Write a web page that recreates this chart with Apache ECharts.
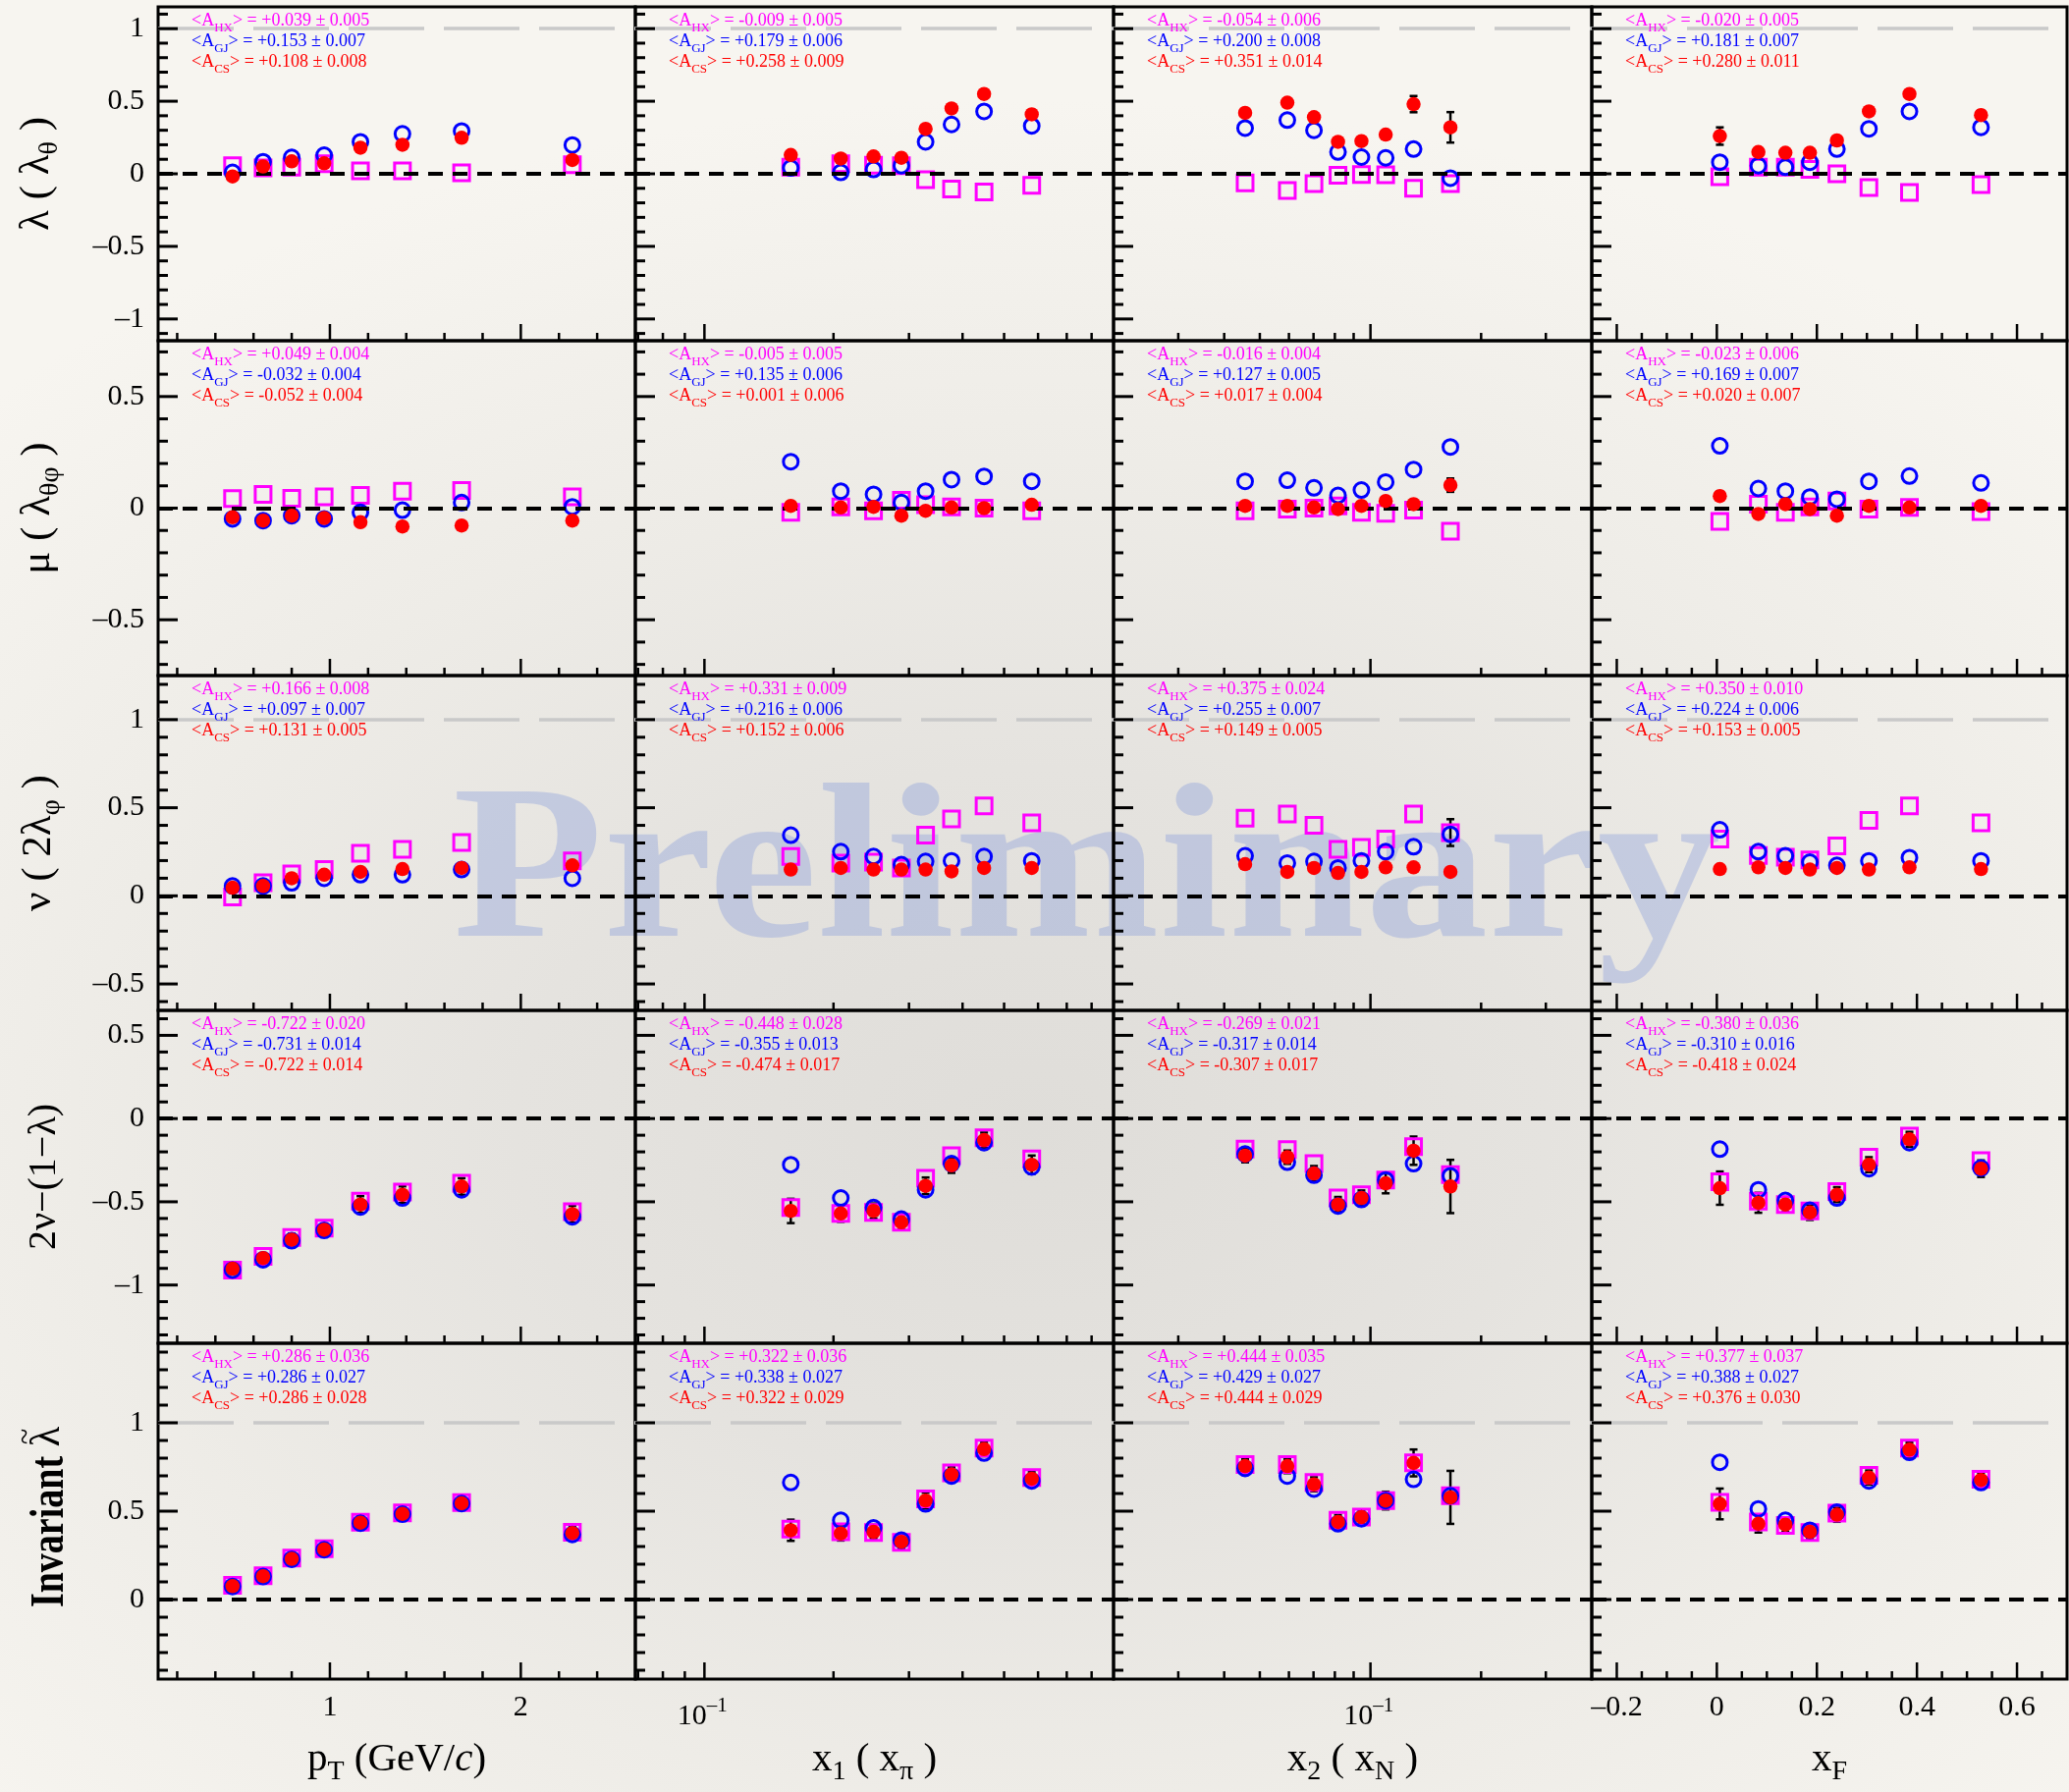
<!DOCTYPE html>
<html>
<head>
<meta charset="utf-8">
<title>Lepton angular coefficients</title>
<script src="https://cdn.jsdelivr.net/npm/echarts@6.0.0/dist/echarts.min.js"></script>
<style>
html, body { margin: 0; padding: 0; }
body { background: #f4f2ed; }
#chart {
  width: 2107px; height: 1825px;
  background: radial-gradient(ellipse 1500px 1050px at 1050px 1150px, #dfddd9 0%, #e5e3df 35%, #eeece7 65%, #f7f5f0 100%);
}
</style>
</head>
<body>
<div id="chart"></div>
<script>
// ---------- bin centres of the four kinematic variables ----------
const xPt = [0.49, 0.65, 0.80, 0.97, 1.16, 1.38, 1.69, 2.27];
const xX1 = [0.159, 0.208, 0.248, 0.288, 0.328, 0.377, 0.449, 0.580];
const xX2 = [0.0456, 0.0594, 0.0702, 0.0816, 0.0945, 0.110, 0.131, 0.165];
const xXF = [0.006, 0.083, 0.137, 0.186, 0.240, 0.304, 0.385, 0.528];

// ---------- lambda (lambda_theta) ----------
const lam_pt_HX = [0.056, 0.040, 0.045, 0.070, 0.020, 0.020, 0.007, 0.063];
const lam_pt_GJ = [0.010, 0.083, 0.113, 0.128, 0.220, 0.275, 0.295, 0.198];
const lam_pt_CS = [-0.018, 0.050, 0.086, 0.072, 0.180, 0.200, 0.248, 0.095];
const lam_pt_err = [0.010, 0.010, 0.010, 0.010, 0.015, 0.015, 0.020, 0.020];
const lam_x1_HX = [0.045, 0.070, 0.060, 0.056, -0.040, -0.105, -0.125, -0.080];
const lam_x1_GJ = [0.040, 0.010, 0.030, 0.056, 0.220, 0.340, 0.430, 0.330];
const lam_x1_CS = [0.130, 0.105, 0.120, 0.110, 0.310, 0.450, 0.550, 0.410];
const lam_x1_err = [0.030, 0.020, 0.020, 0.020, 0.020, 0.020, 0.030, 0.030];
const lam_x2_HX = [-0.063, -0.115, -0.068, -0.010, -0.005, -0.007, -0.100, -0.068];
const lam_x2_GJ = [0.315, 0.370, 0.300, 0.150, 0.115, 0.110, 0.170, -0.030];
const lam_x2_CS = [0.420, 0.490, 0.390, 0.220, 0.225, 0.270, 0.480, 0.320];
const lam_x2_err = [0.030, 0.025, 0.025, 0.020, 0.020, 0.025, 0.056, 0.105];
const lam_xF_HX = [-0.020, 0.045, 0.045, 0.030, 0.000, -0.095, -0.128, -0.075];
const lam_xF_GJ = [0.080, 0.056, 0.045, 0.080, 0.170, 0.310, 0.430, 0.320];
const lam_xF_CS = [0.260, 0.150, 0.145, 0.145, 0.230, 0.430, 0.550, 0.405];
const lam_xF_err = [0.060, 0.020, 0.020, 0.020, 0.020, 0.025, 0.030, 0.030];

// ---------- mu (lambda_theta_phi) ----------
const mu_pt_HX = [0.043, 0.062, 0.044, 0.051, 0.057, 0.076, 0.079, 0.051];
const mu_pt_GJ = [-0.048, -0.056, -0.034, -0.048, -0.019, -0.009, 0.025, 0.006];
const mu_pt_CS = [-0.041, -0.056, -0.034, -0.044, -0.063, -0.082, -0.078, -0.056];
const mu_pt_err = [0.008, 0.008, 0.008, 0.008, 0.010, 0.010, 0.012, 0.012];
const mu_x1_HX = [-0.019, 0.006, -0.012, 0.035, 0.015, 0.006, 0.000, -0.012];
const mu_x1_GJ = [0.208, 0.076, 0.062, 0.025, 0.076, 0.128, 0.142, 0.120];
const mu_x1_CS = [0.010, 0.003, 0.006, -0.034, -0.012, 0.003, 0.000, 0.015];
const mu_x1_err = [0.015, 0.010, 0.010, 0.010, 0.010, 0.010, 0.012, 0.012];
const mu_x2_HX = [-0.012, -0.004, 0.000, 0.010, -0.019, -0.023, -0.009, -0.103];
const mu_x2_GJ = [0.120, 0.125, 0.091, 0.057, 0.081, 0.117, 0.173, 0.274];
const mu_x2_CS = [0.010, 0.010, 0.003, -0.004, 0.010, 0.032, 0.018, 0.103];
const mu_x2_err = [0.010, 0.010, 0.010, 0.010, 0.010, 0.012, 0.020, 0.030];
const mu_xF_HX = [-0.059, 0.018, -0.019, 0.006, 0.032, -0.004, 0.003, -0.015];
const mu_xF_GJ = [0.279, 0.088, 0.076, 0.050, 0.040, 0.120, 0.144, 0.113];
const mu_xF_CS = [0.054, -0.026, 0.018, -0.004, -0.034, 0.010, 0.003, 0.010];
const mu_xF_err = [0.020, 0.010, 0.010, 0.010, 0.010, 0.010, 0.012, 0.012];

// ---------- nu (2 lambda_phi) ----------
const nu_pt_HX = [-0.006, 0.074, 0.125, 0.149, 0.242, 0.264, 0.303, 0.199];
const nu_pt_GJ = [0.056, 0.056, 0.074, 0.100, 0.120, 0.120, 0.149, 0.100];
const nu_pt_CS = [0.046, 0.056, 0.100, 0.120, 0.136, 0.152, 0.158, 0.173];
const nu_pt_err = [0.010, 0.010, 0.010, 0.010, 0.012, 0.012, 0.015, 0.015];
const nu_x1_HX = [0.223, 0.186, 0.191, 0.158, 0.344, 0.437, 0.511, 0.414];
const nu_x1_GJ = [0.344, 0.251, 0.223, 0.177, 0.195, 0.199, 0.223, 0.199];
const nu_x1_CS = [0.149, 0.158, 0.149, 0.149, 0.149, 0.139, 0.158, 0.158];
const nu_x1_err = [0.015, 0.010, 0.010, 0.010, 0.010, 0.010, 0.012, 0.012];
const nu_x2_HX = [0.440, 0.465, 0.400, 0.264, 0.275, 0.322, 0.465, 0.359];
const nu_x2_GJ = [0.227, 0.186, 0.195, 0.158, 0.199, 0.251, 0.279, 0.349];
const nu_x2_CS = [0.180, 0.136, 0.158, 0.130, 0.136, 0.162, 0.162, 0.136];
const nu_x2_err = [0.010, 0.010, 0.010, 0.010, 0.010, 0.012, 0.015, 0.020];
const nu_x2_HX_err = [0, 0, 0, 0, 0, 0, 0, 0.076];
const nu_xF_HX = [0.322, 0.229, 0.219, 0.204, 0.283, 0.428, 0.511, 0.414];
const nu_xF_GJ = [0.375, 0.251, 0.227, 0.191, 0.173, 0.199, 0.217, 0.199];
const nu_xF_CS = [0.152, 0.162, 0.158, 0.149, 0.158, 0.149, 0.162, 0.152];
const nu_xF_err = [0.020, 0.010, 0.010, 0.010, 0.010, 0.010, 0.012, 0.012];

// ---------- 2nu - (1 - lambda) ----------
const lt_pt_HX = [-0.910, -0.828, -0.715, -0.658, -0.496, -0.441, -0.389, -0.559];
const lt_pt_GJ = [-0.910, -0.848, -0.734, -0.672, -0.531, -0.477, -0.428, -0.590];
const lt_pt_CS = [-0.902, -0.838, -0.727, -0.668, -0.516, -0.457, -0.408, -0.574];
const lt_pt_err = [0.030, 0.030, 0.035, 0.035, 0.050, 0.050, 0.050, 0.050];
const lt_x1_HX = [-0.535, -0.570, -0.564, -0.623, -0.359, -0.223, -0.115, -0.242];
const lt_x1_GJ = [-0.277, -0.477, -0.535, -0.604, -0.428, -0.271, -0.145, -0.291];
const lt_x1_CS = [-0.555, -0.570, -0.555, -0.623, -0.404, -0.281, -0.129, -0.277];
const lt_x1_err = [0.073, 0.050, 0.045, 0.045, 0.050, 0.045, 0.045, 0.055];
const lt_x2_HX = [-0.184, -0.187, -0.271, -0.477, -0.457, -0.369, -0.168, -0.336];
const lt_x2_GJ = [-0.213, -0.262, -0.340, -0.525, -0.486, -0.369, -0.271, -0.344];
const lt_x2_CS = [-0.223, -0.232, -0.330, -0.516, -0.477, -0.389, -0.193, -0.408];
const lt_x2_err = [0.040, 0.040, 0.045, 0.045, 0.045, 0.060, 0.085, 0.160];
const lt_xF_HX = [-0.379, -0.496, -0.516, -0.555, -0.438, -0.232, -0.105, -0.252];
const lt_xF_GJ = [-0.184, -0.428, -0.492, -0.551, -0.477, -0.301, -0.145, -0.297];
const lt_xF_CS = [-0.418, -0.506, -0.516, -0.564, -0.457, -0.277, -0.125, -0.301];
const lt_xF_err = [0.100, 0.060, 0.045, 0.045, 0.045, 0.045, 0.045, 0.050];

// ---------- rotation-invariant lambda ----------
const inv_pt_HX = [0.080, 0.135, 0.235, 0.288, 0.438, 0.490, 0.548, 0.380];
const inv_pt_GJ = [0.074, 0.130, 0.228, 0.282, 0.432, 0.483, 0.543, 0.368];
const inv_pt_CS = [0.076, 0.132, 0.230, 0.284, 0.435, 0.485, 0.545, 0.377];
const inv_pt_err = [0.025, 0.025, 0.030, 0.030, 0.035, 0.035, 0.035, 0.035];
const inv_x1_HX = [0.398, 0.383, 0.379, 0.323, 0.569, 0.717, 0.857, 0.690];
const inv_x1_GJ = [0.662, 0.448, 0.405, 0.336, 0.541, 0.699, 0.829, 0.671];
const inv_x1_CS = [0.392, 0.374, 0.383, 0.327, 0.560, 0.708, 0.851, 0.684];
const inv_x1_err = [0.060, 0.040, 0.040, 0.040, 0.045, 0.040, 0.040, 0.040];
const inv_x2_HX = [0.764, 0.764, 0.662, 0.448, 0.467, 0.560, 0.773, 0.587];
const inv_x2_GJ = [0.742, 0.699, 0.625, 0.429, 0.457, 0.560, 0.680, 0.587];
const inv_x2_CS = [0.755, 0.755, 0.652, 0.439, 0.467, 0.560, 0.773, 0.578];
const inv_x2_err = [0.040, 0.040, 0.040, 0.040, 0.040, 0.050, 0.076, 0.150];
const inv_xF_HX = [0.550, 0.439, 0.420, 0.379, 0.489, 0.703, 0.857, 0.680];
const inv_xF_GJ = [0.777, 0.513, 0.448, 0.392, 0.494, 0.671, 0.833, 0.662];
const inv_xF_CS = [0.541, 0.429, 0.424, 0.383, 0.480, 0.690, 0.848, 0.677];
const inv_xF_err = [0.087, 0.050, 0.040, 0.040, 0.040, 0.040, 0.040, 0.040];

// ---------- frame averages <A> (mean, error) for pT, x1, x2, xF ----------
const meanLamHX = [[0.039, 0.005], [-0.009, 0.005], [-0.054, 0.006], [-0.020, 0.005]];
const meanLamGJ = [[0.153, 0.007], [0.179, 0.006], [0.200, 0.008], [0.181, 0.007]];
const meanLamCS = [[0.108, 0.008], [0.258, 0.009], [0.351, 0.014], [0.280, 0.011]];
const meanMuHX = [[0.049, 0.004], [-0.005, 0.005], [-0.016, 0.004], [-0.023, 0.006]];
const meanMuGJ = [[-0.032, 0.004], [0.135, 0.006], [0.127, 0.005], [0.169, 0.007]];
const meanMuCS = [[-0.052, 0.004], [0.001, 0.006], [0.017, 0.004], [0.020, 0.007]];
const meanNuHX = [[0.166, 0.008], [0.331, 0.009], [0.375, 0.024], [0.350, 0.010]];
const meanNuGJ = [[0.097, 0.007], [0.216, 0.006], [0.255, 0.007], [0.224, 0.006]];
const meanNuCS = [[0.131, 0.005], [0.152, 0.006], [0.149, 0.005], [0.153, 0.005]];
const meanLtHX = [[-0.722, 0.020], [-0.448, 0.028], [-0.269, 0.021], [-0.380, 0.036]];
const meanLtGJ = [[-0.731, 0.014], [-0.355, 0.013], [-0.317, 0.014], [-0.310, 0.016]];
const meanLtCS = [[-0.722, 0.014], [-0.474, 0.017], [-0.307, 0.017], [-0.418, 0.024]];
const meanInvHX = [[0.286, 0.036], [0.322, 0.036], [0.444, 0.035], [0.377, 0.037]];
const meanInvGJ = [[0.286, 0.027], [0.338, 0.027], [0.429, 0.027], [0.388, 0.027]];
const meanInvCS = [[0.286, 0.028], [0.322, 0.029], [0.444, 0.029], [0.376, 0.030]];

// ---------- axes ----------
const xRange = [[0.1, 2.6], [0.069, 0.9], [0.02, 0.4], [-0.25, 0.7]];
const xKind = ['value', 'log', 'log', 'value'];
const yRange = [[-1.15, 1.15], [-0.75, 0.75], [-0.65, 1.25], [-1.35, 0.65], [-0.45, 1.45]];
const xMajorTicks = [[1, 2], [0.1], [0.1], [-0.2, 0, 0.2, 0.4, 0.6]];
const xMinorTicks = [
  [0.2, 0.4, 0.6, 0.8, 1.2, 1.4, 1.6, 1.8, 2.2, 2.4],
  [0.07, 0.08, 0.09, 0.2, 0.3, 0.4, 0.5, 0.6, 0.7, 0.8],
  [0.03, 0.04, 0.05, 0.06, 0.07, 0.08, 0.09, 0.2, 0.3],
  [-0.15, -0.1, -0.05, 0.05, 0.1, 0.15, 0.25, 0.3, 0.35, 0.45, 0.5, 0.55, 0.65]
];
const yMajorTicks = [[-1, -0.5, 0, 0.5, 1], [-0.5, 0, 0.5], [-0.5, 0, 0.5, 1], [-1, -0.5, 0, 0.5], [0, 0.5, 1]];

// ---------- page layout (pixels) ----------
const colLeft = [161, 647, 1134, 1621];
const colWidth = [486, 487, 487, 484];
const rowTop = [7, 347, 688, 1029, 1368];
const rowHeight = [340, 341, 341, 339, 342];
const yTitleX = [38, 39, 40, 45, 51];
const yTitleSize = [43, 43, 43, 40, 38];

const SERIF = "'Liberation Serif', 'DejaVu Serif', serif";
const C_HX = '#ff00ff', C_GJ = '#0000ff', C_CS = '#ff0000';

const xBins = [xPt, xX1, xX2, xXF];
const panelData = [
  [[lam_pt_HX, lam_pt_GJ, lam_pt_CS, lam_pt_err], [lam_x1_HX, lam_x1_GJ, lam_x1_CS, lam_x1_err],
   [lam_x2_HX, lam_x2_GJ, lam_x2_CS, lam_x2_err], [lam_xF_HX, lam_xF_GJ, lam_xF_CS, lam_xF_err]],
  [[mu_pt_HX, mu_pt_GJ, mu_pt_CS, mu_pt_err], [mu_x1_HX, mu_x1_GJ, mu_x1_CS, mu_x1_err],
   [mu_x2_HX, mu_x2_GJ, mu_x2_CS, mu_x2_err], [mu_xF_HX, mu_xF_GJ, mu_xF_CS, mu_xF_err]],
  [[nu_pt_HX, nu_pt_GJ, nu_pt_CS, nu_pt_err], [nu_x1_HX, nu_x1_GJ, nu_x1_CS, nu_x1_err],
   [nu_x2_HX, nu_x2_GJ, nu_x2_CS, nu_x2_err, nu_x2_HX_err], [nu_xF_HX, nu_xF_GJ, nu_xF_CS, nu_xF_err]],
  [[lt_pt_HX, lt_pt_GJ, lt_pt_CS, lt_pt_err], [lt_x1_HX, lt_x1_GJ, lt_x1_CS, lt_x1_err],
   [lt_x2_HX, lt_x2_GJ, lt_x2_CS, lt_x2_err], [lt_xF_HX, lt_xF_GJ, lt_xF_CS, lt_xF_err]],
  [[inv_pt_HX, inv_pt_GJ, inv_pt_CS, inv_pt_err], [inv_x1_HX, inv_x1_GJ, inv_x1_CS, inv_x1_err],
   [inv_x2_HX, inv_x2_GJ, inv_x2_CS, inv_x2_err], [inv_xF_HX, inv_xF_GJ, inv_xF_CS, inv_xF_err]]
];
const rowMeans = [
  [meanLamHX, meanLamGJ, meanLamCS], [meanMuHX, meanMuGJ, meanMuCS], [meanNuHX, meanNuGJ, meanNuCS],
  [meanLtHX, meanLtGJ, meanLtCS], [meanInvHX, meanInvGJ, meanInvCS]
];

const yTitles = [
  '{m|λ ( λ}{s|θ}{m| )}',
  '{m|μ ( λ}{s|θφ}{m| )}',
  '{m|ν ( 2λ}{s|φ}{m| )}',
  '{m|2ν\u2212(1\u2212λ)}'
];
const xTitles = [
  '{m|p}{s|T}{m| (GeV/}{i|c}{m|)}',
  '{m|x}{s|1}{m| ( x}{s|π}{m| )}',
  '{m|x}{s|2}{m| ( x}{s|N}{m| )}',
  '{m|x}{s|F}'
];

function tickText(v) {
  const s = String(Math.abs(v));
  return v < 0 ? '\u2013' + s : s;
}
function meanText(v) {
  return (v < 0 ? '-' : '+') + Math.abs(v).toFixed(3);
}
function yMinorTicks(r) {
  const lo = yRange[r][0], hi = yRange[r][1], out = [];
  for (let k = Math.ceil(lo * 10 - 1e-9); k <= Math.floor(hi * 10 + 1e-9); k++) {
    if (k % 5 !== 0) out.push(k / 10);
  }
  return out;
}

function seg(x1, y1, x2, y2, w) {
  return { type: 'line', shape: { x1: x1, y1: y1, x2: x2, y2: y2 }, style: { stroke: '#000', lineWidth: w } };
}

// ticks (inward, ROOT style) and tick labels
function renderFrame(params, api) {
  const kind = api.value(2);
  const v = [api.value(0), api.value(1)];
  const p = api.coord(v);
  switch (kind) {
    case 0: return seg(p[0], p[1], p[0], p[1] - 17, 2.5);
    case 1: return seg(p[0], p[1], p[0], p[1] - 8, 2.5);
    case 2: return seg(p[0], p[1], p[0] + 20, p[1], 3);
    case 3: return seg(p[0], p[1], p[0] + 10, p[1], 3);
    case 4:
      return { type: 'text', x: p[0], y: p[1] + 29, style: {
        text: tickText(v[0]), fill: '#000', fontSize: 30, fontFamily: SERIF, align: 'center', verticalAlign: 'middle' } };
    case 5:
      return { type: 'text', x: p[0] - 14, y: p[1], style: {
        text: tickText(v[1]), fill: '#000', fontSize: 30, fontFamily: SERIF, align: 'right', verticalAlign: 'middle' } };
    case 6: {
      const e = Math.round(Math.log10(v[0]));
      return { type: 'text', x: p[0] - 2, y: p[1] + 38, style: {
        text: '{b|10}{p|' + tickText(e) + '}', fill: '#000', align: 'center', verticalAlign: 'middle',
        rich: {
          b: { fontSize: 30, fontFamily: SERIF, fill: '#000' },
          p: { fontSize: 21, fontFamily: SERIF, fill: '#000', padding: [0, 0, 21, 0] }
        } } };
    }
  }
  return null;
}

function renderErr(params, api) {
  const x = api.value(0), y = api.value(1), e = api.value(2);
  const a = api.coord([x, y + e]), b = api.coord([x, y - e]);
  return { type: 'group', children: [
    seg(a[0], a[1], b[0], b[1], 2.5),
    seg(a[0] - 4, a[1], a[0] + 4, a[1], 2.5),
    seg(b[0] - 4, b[1], b[0] + 4, b[1], 2.5)
  ] };
}

const grid = [], xAxis = [], yAxis = [], series = [], graphic = [];

for (let r = 0; r < 5; r++) {
  for (let c = 0; c < 4; c++) {
    const i = r * 4 + c;
    const x0 = xRange[c][0], y0 = yRange[r][0];
    grid.push({
      left: colLeft[c], top: rowTop[r], width: colWidth[c], height: rowHeight[r],
      show: true, borderColor: '#000', borderWidth: 3, backgroundColor: 'rgba(0,0,0,0)',
      containLabel: false, outerBoundsMode: 'none'
    });
    const hidden = { axisLine: { show: false }, axisTick: { show: false }, axisLabel: { show: false },
                     splitLine: { show: false }, minorTick: { show: false }, minorSplitLine: { show: false } };
    xAxis.push(Object.assign({ gridIndex: i, type: xKind[c], logBase: 10, min: xRange[c][0], max: xRange[c][1] }, hidden));
    yAxis.push(Object.assign({ gridIndex: i, type: 'value', min: yRange[r][0], max: yRange[r][1] }, hidden));

    // frame ticks + labels
    const frame = [];
    xMajorTicks[c].forEach(v => frame.push([v, y0, 0]));
    xMinorTicks[c].forEach(v => frame.push([v, y0, 1]));
    yMajorTicks[r].forEach(v => frame.push([x0, v, 2]));
    yMinorTicks(r).forEach(v => frame.push([x0, v, 3]));
    if (r === 4) xMajorTicks[c].forEach(v => frame.push([v, y0, xKind[c] === 'log' ? 6 : 4]));
    if (c === 0) yMajorTicks[r].forEach(v => frame.push([x0, v, 5]));
    series.push({ type: 'custom', xAxisIndex: i, yAxisIndex: i, data: frame, renderItem: renderFrame,
                  encode: { x: 0, y: 1 }, clip: false, silent: true, z: 8 });

    // error bars: CS for every bin, HX only where one is given
    const d = panelData[r][c];
    const xs = xBins[c];
    const errRows = xs.map((x, k) => [x, d[2][k], d[3][k]]);
    if (d[4]) xs.forEach((x, k) => { if (d[4][k] > 0) errRows.push([x, d[0][k], d[4][k]]); });
    series.push({ type: 'custom', xAxisIndex: i, yAxisIndex: i, data: errRows, renderItem: renderErr,
                  encode: { x: 0, y: 1 }, clip: false, silent: true, z: 2 });

    const refLines = [{ yAxis: 0, lineStyle: { color: '#000', width: 4, type: [15, 10] } }];
    if (yRange[r][1] > 1) refLines.push({ yAxis: 1, lineStyle: { color: '#c9c9c9', width: 3.5, type: [77, 20] } });

    series.push({ type: 'scatter', name: 'HX', xAxisIndex: i, yAxisIndex: i, z: 3,
      data: xs.map((x, k) => [x, d[0][k]]), symbol: 'rect', symbolSize: 16,
      itemStyle: { color: 'rgba(0,0,0,0)', borderColor: C_HX, borderWidth: 3, opacity: 1 },
      markLine: { silent: true, symbol: ['none', 'none'], label: { show: false }, data: refLines } });
    series.push({ type: 'scatter', name: 'GJ', xAxisIndex: i, yAxisIndex: i, z: 4,
      data: xs.map((x, k) => [x, d[1][k]]), symbol: 'circle', symbolSize: 15,
      itemStyle: { color: 'rgba(0,0,0,0)', borderColor: C_GJ, borderWidth: 3, opacity: 1 } });
    series.push({ type: 'scatter', name: 'CS', xAxisIndex: i, yAxisIndex: i, z: 5,
      data: xs.map((x, k) => [x, d[2][k]]), symbol: 'circle', symbolSize: 14.5,
      itemStyle: { color: C_CS, borderWidth: 0, opacity: 1 } });

    // frame averages
    const tags = ['HX', 'GJ', 'CS'], cols = [C_HX, C_GJ, C_CS];
    for (let k = 0; k < 3; k++) {
      const m = rowMeans[r][k][c];
      graphic.push({
        type: 'text', x: colLeft[c] + 34, y: rowTop[r] + 14 + k * 21, z: 20, silent: true,
        style: {
          text: '{m|<A}{s|' + tags[k] + '}{m|> = ' + meanText(m[0]) + ' ± ' + m[1].toFixed(3) + '}',
          fill: cols[k], align: 'left', verticalAlign: 'middle',
          rich: {
            m: { fontSize: 18, fontFamily: SERIF, fill: cols[k] },
            s: { fontSize: 13, fontFamily: SERIF, fill: cols[k], padding: [15, 0, 0, 0] }
          }
        }
      });
    }
  }
}

// y-axis titles (rotated, reading upwards)
for (let r = 0; r < 4; r++) {
  const fs = yTitleSize[r];
  graphic.push({
    type: 'text', x: yTitleX[r], y: rowTop[r] + rowHeight[r] / 2, rotation: Math.PI / 2, z: 20, silent: true,
    style: {
      text: yTitles[r], fill: '#000', align: 'center', verticalAlign: 'middle',
      rich: {
        m: { fontSize: fs, fontFamily: SERIF, fill: '#000' },
        s: { fontSize: Math.round(fs * 0.66), fontFamily: SERIF, fill: '#000', padding: [Math.round(fs * 0.6), 0, 0, 0] }
      }
    }
  });
}
// "Invariant" + lambda with a tilde
graphic.push({
  type: 'text', x: yTitleX[4], y: 1560, rotation: Math.PI / 2, scaleY: 1.3, z: 20, silent: true,
  style: { text: 'Invariant', fill: '#000', fontSize: yTitleSize[4], fontWeight: 'bold', fontFamily: SERIF,
           align: 'center', verticalAlign: 'middle' }
});
graphic.push({
  type: 'text', x: yTitleX[4] - 2, y: 1463, rotation: Math.PI / 2, z: 20, silent: true,
  style: { text: 'λ', fill: '#000', fontSize: 42, fontFamily: SERIF, align: 'center', verticalAlign: 'middle' }
});
graphic.push({
  type: 'text', x: 27, y: 1463, rotation: Math.PI / 2, z: 20, silent: true,
  style: { text: '~', fill: '#000', fontSize: 30, fontFamily: SERIF, align: 'center', verticalAlign: 'middle' }
});

// x-axis titles
for (let c = 0; c < 4; c++) {
  graphic.push({
    type: 'text', x: colLeft[c] + colWidth[c] / 2, y: 1792, z: 20, silent: true,
    style: {
      text: xTitles[c], fill: '#000', align: 'center', verticalAlign: 'middle',
      rich: {
        m: { fontSize: 41, fontFamily: SERIF, fill: '#000' },
        i: { fontSize: 41, fontFamily: SERIF, fontStyle: 'italic', fill: '#000' },
        s: { fontSize: 28, fontFamily: SERIF, fill: '#000', padding: [26, 0, 0, 0] }
      }
    }
  });
}

// watermark
graphic.push({
  type: 'text', x: 461, y: 888, originX: 0, originY: 82, scaleX: 1.024, scaleY: 0.917, z: -10, silent: true,
  style: { text: 'Preliminary', fill: 'rgba(120,145,220,0.33)', fontSize: 245, fontWeight: 'bold',
           fontFamily: SERIF, align: 'left', verticalAlign: 'middle' }
});

const chart = echarts.init(document.getElementById('chart'), null, { renderer: 'canvas', width: 2107, height: 1825 });
chart.setOption({
  animation: false,
  backgroundColor: 'rgba(0,0,0,0)',
  tooltip: { show: false },
  grid: grid, xAxis: xAxis, yAxis: yAxis, series: series,
  graphic: { elements: graphic }
});
</script>
</body>
</html>
